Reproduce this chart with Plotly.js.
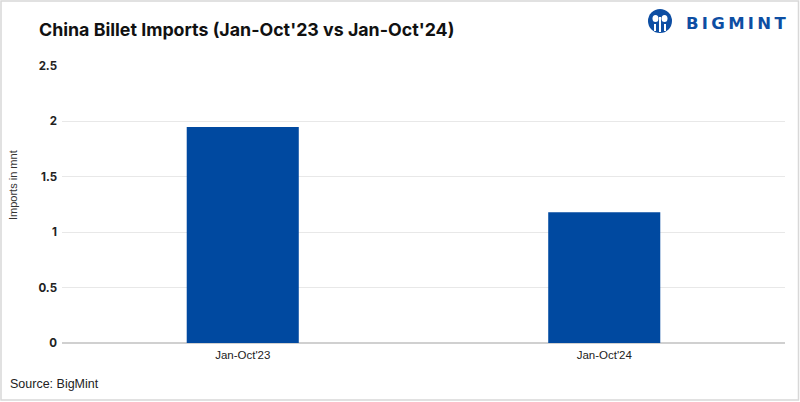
<!DOCTYPE html>
<html>
<head>
<meta charset="utf-8">
<script src="https://cdn.plot.ly/plotly-3.0.1.min.js"></script>
<style>html,body{margin:0;padding:0;background:#fff;}#chart{width:800px;height:402px;}</style>
</head>
<body>
<div id="chart"></div>
<script>
var categories = ["Jan-Oct'23", "Jan-Oct'24"];
var imports = [1.95, 1.18];
var yTicks = [0, 0.5, 1, 1.5, 2, 2.5];
var yTickLabels = ["0", "0.5", "1", "1.5", "2", "2.5"];

// plot area in pixels: x 62..785, y 66..343
var PL = 62, PR = 785, PT = 66, PB = 343;
function px(x) { return (x - PL) / (PR - PL); }
function py(y) { return (PB - y) / (PB - PT); }

var trace = {
  type: 'bar',
  x: categories,
  y: imports,
  marker: {color: '#0049a0'},
  width: 0.31,
  hoverinfo: 'x+y'
};

var logoBlue = '#0d4ea3';

var layout = {
  width: 800, height: 402,
  margin: {l: 62, r: 15, t: 66, b: 59},
  paper_bgcolor: '#ffffff',
  plot_bgcolor: '#ffffff',
  showlegend: false,
  title: {
    text: "<b>China Billet Imports (Jan-Oct'23 vs Jan-Oct'24)</b>",
    x: 39 / 800, xanchor: 'left', y: 1 - 30 / 402, yanchor: 'middle',
    font: {family: 'Inter, "Open Sans", sans-serif', size: 17.8, color: '#111111'}
  },
  xaxis: {
    type: 'category',
    range: [-0.5, 1.5],
    showgrid: false,
    showline: false,
    ticks: '',
    ticklabelstandoff: 3,
    tickfont: {family: '"Liberation Sans", Arial, sans-serif', size: 11.5, color: '#222222'},
    fixedrange: true
  },
  yaxis: {
    range: [0, 2.5],
    tickvals: yTicks,
    ticktext: yTickLabels,
    showgrid: true,
    gridcolor: '#e8e8e8',
    gridwidth: 1,
    zeroline: true,
    zerolinecolor: '#d0d0d0',
    zerolinewidth: 2,
    showline: false,
    ticks: '',
    ticklabelstandoff: 4,
    tickfont: {family: 'Inter, "Open Sans", sans-serif', size: 11.5, color: '#222222', weight: 'bold'},
    fixedrange: true
  },
  shapes: [
    {type: 'rect', xref: 'paper', yref: 'paper', x0: px(1), x1: px(798.5), y0: py(400), y1: py(1),
     line: {color: '#d8d8d8', width: 1.5}, fillcolor: 'rgba(0,0,0,0)', layer: 'below'},
    {type: 'circle', xref: 'paper', yref: 'paper', x0: px(648), x1: px(672), y0: py(33), y1: py(9),
     fillcolor: logoBlue, line: {width: 0}},
    {type: 'circle', xref: 'paper', yref: 'paper', x0: px(652.5), x1: px(658.5), y0: py(22), y1: py(15),
     fillcolor: '#ffffff', line: {width: 0}},
    {type: 'circle', xref: 'paper', yref: 'paper', x0: px(661.5), x1: px(667.5), y0: py(22), y1: py(15),
     fillcolor: '#ffffff', line: {width: 0}},
    {type: 'rect', xref: 'paper', yref: 'paper', x0: px(659), x1: px(661), y0: py(32), y1: py(17),
     fillcolor: '#ffffff', line: {width: 0}},
    {type: 'rect', xref: 'paper', yref: 'paper', x0: px(654), x1: px(656), y0: py(31), y1: py(24),
     fillcolor: '#ffffff', line: {width: 0}},
    {type: 'rect', xref: 'paper', yref: 'paper', x0: px(664), x1: px(666), y0: py(31), y1: py(24),
     fillcolor: '#ffffff', line: {width: 0}}
  ],
  annotations: [
    {text: 'Imports in mnt', xref: 'paper', yref: 'paper', x: px(13), y: py(185),
     xanchor: 'center', yanchor: 'middle', textangle: -90, showarrow: false,
     font: {family: '"Liberation Sans", Arial, sans-serif', size: 11, color: '#333333'}},
    {text: 'Source: BigMint', xref: 'paper', yref: 'paper', x: px(8), y: py(384),
     xanchor: 'left', yanchor: 'middle', showarrow: false,
     font: {family: '"Liberation Sans", Arial, sans-serif', size: 12.5, color: '#222222'}},
    {text: '<b>B\u2009I\u2009G\u2009M\u2009I\u2009N\u2009T</b>', xref: 'paper', yref: 'paper', x: px(788), y: py(23),
     xanchor: 'right', yanchor: 'middle', showarrow: false,
     font: {family: '"DejaVu Sans", sans-serif', size: 16.5, color: logoBlue}}
  ]
};

Plotly.newPlot('chart', [trace], layout, {displayModeBar: false, responsive: false});
</script>
</body>
</html>
